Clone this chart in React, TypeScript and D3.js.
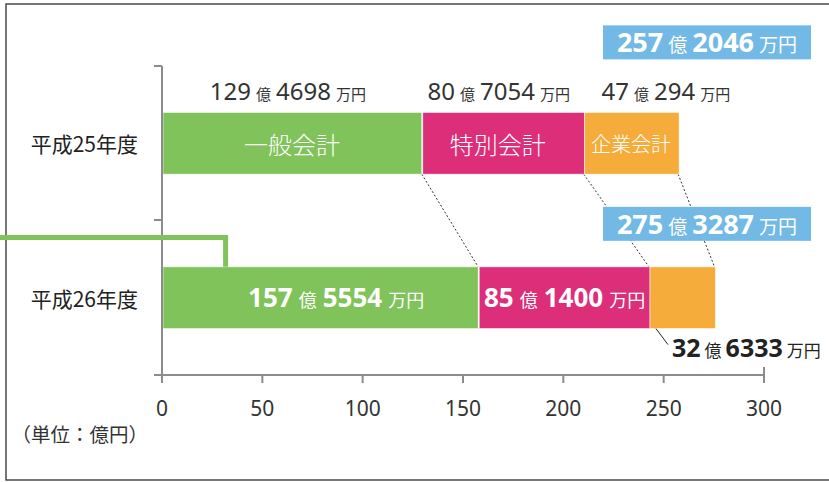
import React from 'react';
import * as d3 from 'd3';

const years = ['平成25年度', '平成26年度'];
const accounts = ['一般会計', '特別会計', '企業会計'];
// 億 and 万 parts per account
const oku25 = [129, 80, 47];
const man25 = [4698, 7054, 294];
const oku26 = [157, 85, 32];
const man26 = [5554, 1400, 6333];
const totalOku = [257, 275];
const totalMan = [2046, 3287];
const xTicks = [0, 50, 100, 150, 200, 250, 300];

const colors = ['#7fc35a', '#dd2e7a', '#f6ac3a'];
const blue = '#72b9e5';
const FONT = '"Noto Sans", "Noto Sans CJK JP", sans-serif';
const CJK = '"Noto Sans CJK JP", sans-serif';

const W = 829;
const H = 482;

const x = d3.scaleLinear().domain([0, 300]).range([162, 764]);
const y = d3.scaleBand<string>().domain(years).range([66, 375]);
const barH = y.bandwidth() * 0.4;

const toVal = (o: number, m: number) => o + m / 10000;
const rows = [oku25.map((o, i) => toVal(o, man25[i])), oku26.map((o, i) => toVal(o, man26[i]))];
const stacks = rows.map(vals => {
  let acc = 0;
  return vals.map(v => { const s = acc; acc += v; return [s, acc]; });
});

// number + 億 + number + 万円 as one text with tspans
const Amount = ({ o, m, big, small, weight, fill, gap = 5, ...rest }: any) => (
  <text fontFamily={FONT} fill={fill} {...rest}>
    <tspan fontSize={big} fontWeight={weight}>{o}</tspan>
    <tspan fontSize={small} fontFamily={CJK} dx={gap}>億</tspan>
    <tspan fontSize={big} fontWeight={weight} dx={gap}>{m}</tspan>
    <tspan fontSize={small} fontFamily={CJK} dx={gap}>万円</tspan>
  </text>
);

const App = () => {
  const barTop = (i: number) => y(years[i])! + (y.bandwidth() - barH) / 2;
  const t0 = barTop(0), t1 = barTop(1);

  return (
    <svg width={W} height={H} style={{ position: 'absolute', left: 0, top: 0, background: '#fff' }}>
      {/* frame */}
      <path d={`M${W},4H6V480H${W}`} fill="none" stroke="#4a4a4a" strokeWidth={1.5} />

      {/* dotted connectors between the two years */}
      {stacks[0].map((s, i) => (
        <line key={i} x1={x(s[1])} y1={t0 + barH} x2={x(stacks[1][i][1])} y2={t1}
          stroke="#333" strokeWidth={1} strokeDasharray="2,2" />
      ))}

      {/* bars */}
      {stacks.map((row, r) => row.map((s, i) => (
        <rect key={`${r}-${i}`} x={x(s[0]) + 1} y={barTop(r)} width={x(s[1]) - x(s[0]) - (i === 0 ? 1 : 0)}
          height={barH} fill={colors[i]} stroke="#fff" strokeWidth={0.6} />
      )))}

      {/* axes */}
      <g stroke="#8b8b90" strokeWidth={2} fill="none">
        <line x1={x(0)} x2={x(0)} y1={66} y2={375} />
        <line x1={154} x2={x(300)} y1={375} y2={375} />
        {[66, 220].map(v => <line key={v} x1={154} x2={x(0)} y1={v} y2={v} />)}
        {xTicks.map(t => <line key={t} x1={x(t)} x2={x(t)} y1={375} y2={383} />)}
        <line x1={x(300)} x2={x(300)} y1={367} y2={383} />
      </g>
      {xTicks.map(t => (
        <text key={t} x={x(t)} y={416} textAnchor="middle" fontFamily={FONT} fontSize={21} fill="#333">{t}</text>
      ))}

      {/* category labels */}
      {years.map(yr => (
        <text key={yr} x={138} y={y(yr)! + y.bandwidth() / 2} dominantBaseline="central" textAnchor="end"
          fontFamily={CJK} fontSize={21} fill="#222">{yr}</text>
      ))}
      <text x={148} y={433} dominantBaseline="central" textAnchor="end" fontFamily={CJK} fontSize={19.5} fill="#333">（単位：億円）</text>

      {/* green bracket line */}
      <path d={`M0,237.5H${x(31.7)}V${t1}`} fill="none" stroke={colors[0]} strokeWidth={5} />

      {/* H25 amount labels above */}
      {stacks[0].map((s, i) => (
        <Amount key={i} o={oku25[i]} m={man25[i]} big={24} small={15} weight={400} fill="#333"
          x={(x(s[0]) + x(s[1])) / 2 + (i === 2 ? 35 : -4)} y={100} textAnchor="middle" />
      ))}
      {/* H25 names in bars */}
      {stacks[0].map((s, i) => (
        <text key={i} x={(x(s[0]) + x(s[1])) / 2 - (i === 1 ? 5 : 0)} y={t0 + barH / 2} dominantBaseline="central" textAnchor="middle"
          fontFamily={CJK} fontSize={i === 2 ? 20 : 24} fill="#fff" fontWeight={300}>{accounts[i]}</text>
      ))}

      {/* H26 amounts in bars */}
      {stacks[1].slice(0, 2).map((s, i) => (
        <Amount key={i} o={oku26[i]} m={man26[i]} big={26} small={18} weight={700} fill="#fff" gap={6}
          x={(x(s[0]) + x(s[1])) / 2 + (i === 0 ? 16 : 1)} y={t1 + barH / 2 + 9} textAnchor="middle" />
      ))}
      <line x1={x(stacks[1][2][0]) + 7} y1={t1 + barH} x2={x(stacks[1][2][0]) + 19} y2={t1 + barH + 16} stroke="#222" strokeWidth={1} />
      <Amount o={oku26[2]} m={man26[2]} big={25} small={17} weight={700} fill="#222" gap={4}
        x={x(stacks[1][2][0]) + 23} y={357} />

      {/* totals */}
      {[t0 - 53, t1 - 26].map((bottom, i) => (
        <g key={i}>
          <rect x={603} y={bottom - 34} width={208} height={34} fill={blue} />
          <Amount o={totalOku[i]} m={totalMan[i]} big={27} small={19} weight={700} fill="#fff"
            x={707} y={bottom - 7} textAnchor="middle" />
        </g>
      ))}
    </svg>
  );
};

export default App;
